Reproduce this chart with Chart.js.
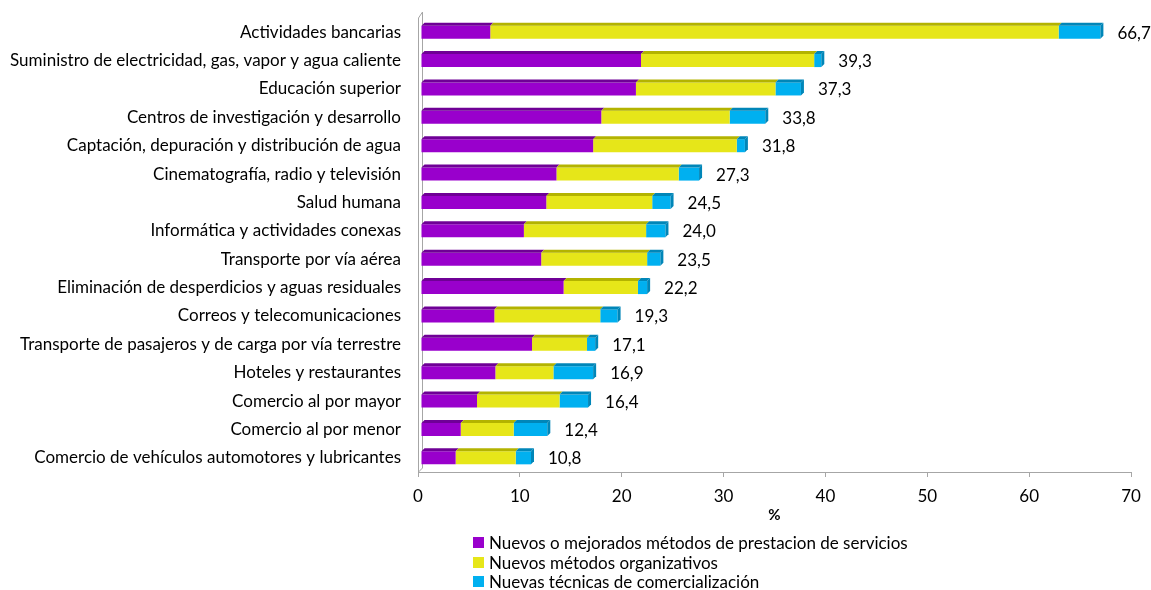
<!DOCTYPE html>
<html>
<head>
<meta charset="utf-8">
<script src="https://cdn.jsdelivr.net/npm/chart.js@4/dist/chart.umd.min.js"></script>
<style>
  html, body { margin:0; padding:0; background:#fff; }
  #wrap { position:relative; width:1151px; height:590px; }
  #chart { display:block; }
  #legend { position:absolute; left:473px; top:533px; font-family:Lato, sans-serif; font-size:17px; color:#000; }
  #legend .row { height:19.5px; display:flex; align-items:center; }
  #legend .box { width:11px; height:11px; margin-right:5px; display:inline-block; }
</style>
</head>
<body>
<div id="wrap">
  <canvas id="chart" width="1151" height="590"></canvas>
  <div id="legend"></div>
</div>
<script>
  // ---- data ----
  const categories = [
    "Actividades bancarias",
    "Suministro de electricidad, gas, vapor y agua caliente",
    "Educación superior",
    "Centros de investigación y desarrollo",
    "Captación, depuración y distribución de agua",
    "Cinematografía, radio y televisión",
    "Salud humana",
    "Informática y actividades conexas",
    "Transporte por vía aérea",
    "Eliminación de desperdicios y aguas residuales",
    "Correos y telecomunicaciones",
    "Transporte de pasajeros y de carga por vía terrestre",
    "Hoteles y restaurantes",
    "Comercio al por mayor",
    "Comercio al por menor",
    "Comercio de vehículos automotores y lubricantes"
  ];
  const metodosServicio      = [6.8, 21.6, 21.1, 17.7, 16.9, 13.3, 12.3, 10.1, 11.8, 14.0, 7.2, 10.9, 7.3, 5.5, 3.9, 3.4];
  const metodosOrganizativos = [55.8, 17.0, 13.7, 12.6, 14.1, 12.0, 10.4, 12.0, 10.4, 7.3, 10.4, 5.4, 5.7, 8.1, 5.2, 5.9];
  const tecnicasComercial    = [4.1, 0.7, 2.5, 3.5, 0.8, 2.0, 1.8, 1.9, 1.3, 0.9, 1.7, 0.8, 3.9, 2.8, 3.3, 1.5];
  const totals               = [66.7, 39.3, 37.3, 33.8, 31.8, 27.3, 24.5, 24.0, 23.5, 22.2, 19.3, 17.1, 16.9, 16.4, 12.4, 10.8];
  const xTicks = [0, 10, 20, 30, 40, 50, 60, 70];
  const seriesNames = [
    "Nuevos o mejorados métodos de prestacion de servicios",
    "Nuevos métodos organizativos",
    "Nuevas técnicas de comercialización"
  ];
  const axisTitle = "%";

  // ---- styles ----
  const FONT = "Lato, sans-serif";
  const fillColors = ["#9900cc", "#e6e619", "#00b0f0"];
  const topColors  = ["#6f0096", "#b3b300", "#0086b8"];
  const axisColor = "#a6a6a6";
  const SHIFT = 3;   // bars sit on the back wall, a few px right of the axis

  function noScalePadding(s){
    s.paddingTop = 0; s.paddingBottom = 0; s.paddingLeft = 0; s.paddingRight = 0;
  }

  // fake 3D look: back wall line, top face on each bar, side face on the last segment
  const depthPlugin = {
    id: "depth",
    beforeDatasetsDraw(chart){
      const {ctx, chartArea:a} = chart;
      const d = 4;
      ctx.save();
      ctx.strokeStyle = axisColor;
      ctx.lineWidth = 1;
      ctx.beginPath();
      ctx.moveTo(a.left + 0.5, a.top);
      ctx.lineTo(a.left + d + 0.5, a.top - d - 2);
      ctx.lineTo(a.left + d + 0.5, a.bottom - d);
      ctx.lineTo(a.left + 0.5, a.bottom);
      ctx.stroke();
      ctx.restore();
      ctx.save();
      ctx.translate(SHIFT, 0);
    },
    afterDatasetsDraw(chart){
      const ctx = chart.ctx;
      const d = 3;
      const last = chart.data.datasets.length - 1;
      chart.data.datasets.forEach((ds, i) => {
        const meta = chart.getDatasetMeta(i);
        meta.data.forEach(bar => {
          const p = bar.getProps(["x", "y", "base", "height"], true);
          const top = p.y - p.height / 2;
          const bottom = p.y + p.height / 2;
          ctx.fillStyle = topColors[i];
          ctx.beginPath();
          ctx.moveTo(p.base, top);
          ctx.lineTo(p.base + d, top - d);
          ctx.lineTo(p.x + d, top - d);
          ctx.lineTo(p.x, top);
          ctx.closePath();
          ctx.fill();
          if(i === last){
            ctx.beginPath();
            ctx.moveTo(p.x, top);
            ctx.lineTo(p.x + d, top - d);
            ctx.lineTo(p.x + d, bottom - d);
            ctx.lineTo(p.x, bottom);
            ctx.closePath();
            ctx.fill();
          }
        });
      });
      ctx.restore();
    }
  };

  // total labels at the end of each stack
  const totalsPlugin = {
    id: "totals",
    afterDatasetsDraw(chart){
      const ctx = chart.ctx;
      const xs = chart.scales.x, ys = chart.scales.y;
      ctx.save();
      ctx.font = "17px " + FONT;
      ctx.fillStyle = "#000";
      ctx.textAlign = "left";
      ctx.textBaseline = "middle";
      totals.forEach((t, j) => {
        const x = xs.getPixelForValue(t) + 20;
        const y = ys.getPixelForValue(j) + 1;
        ctx.fillText(t.toFixed(1).replace(".", ","), x, y);
      });
      ctx.restore();
    }
  };

  const seriesData = [metodosServicio, metodosOrganizativos, tecnicasComercial];

  const chart = new Chart(document.getElementById("chart"), {
    type: "bar",
    data: {
      labels: categories,
      datasets: seriesData.map((data, i) => ({
        label: seriesNames[i],
        data,
        backgroundColor: fillColors[i],
        borderWidth: 0,
        categoryPercentage: 1,
        barPercentage: 0.46
      }))
    },
    options: {
      indexAxis: "y",
      responsive: false,
      animation: false,
      layout: { padding: { top: 18, right: 20, bottom: 67.5, left: 0 } },
      plugins: {
        legend: { display: false },
        tooltip: { enabled: false }
      },
      scales: {
        x: {
          stacked: true,
          min: 0,
          max: 70,
          afterBuildTicks(s){ s.ticks = xTicks.map(v => ({ value: v })); },
          afterFit(s){ s.height = 50.5; noScalePadding(s); },
          grid: { drawOnChartArea: false, drawTicks: true, tickLength: 5, color: axisColor },
          border: { color: axisColor },
          ticks: { color: "#000", font: { family: FONT, size: 17, lineHeight: 1 }, padding: 11.5 },
          title: { display: true, text: axisTitle, color: "#000", font: { family: FONT, size: 15, weight: "bold", lineHeight: 1 }, padding: { top: 1, bottom: 0 } }
        },
        y: {
          stacked: true,
          afterFit(s){ s.width = 418; noScalePadding(s); },
          grid: { display: false, drawTicks: false },
          border: { color: axisColor },
          ticks: { color: "#000", font: { family: FONT, size: 17 }, padding: 17, autoSkip: false }
        }
      }
    },
    plugins: [depthPlugin, totalsPlugin]
  });

  // vertical legend, as in the original
  const legend = document.getElementById("legend");
  chart.data.datasets.forEach(ds => {
    const row = document.createElement("div");
    row.className = "row";
    const box = document.createElement("span");
    box.className = "box";
    box.style.background = ds.backgroundColor;
    row.appendChild(box);
    row.appendChild(document.createTextNode(ds.label));
    legend.appendChild(row);
  });
</script>
</body>
</html>
